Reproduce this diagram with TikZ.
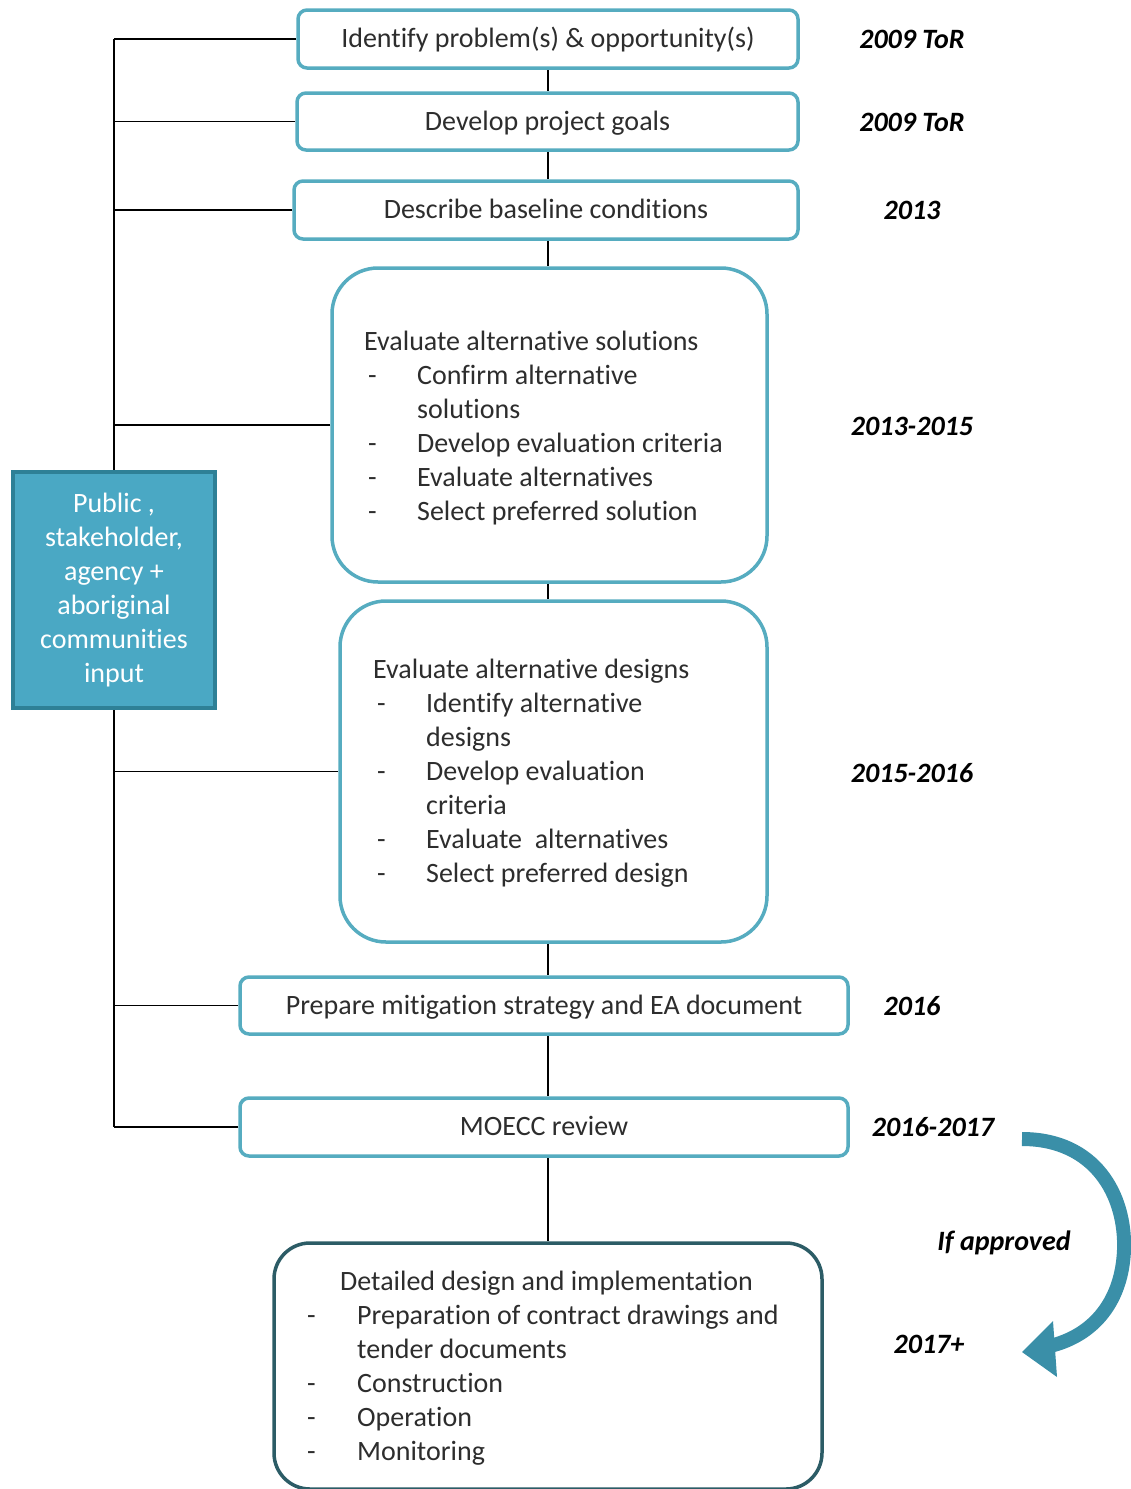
\documentclass[tikz,border=0pt]{standalone}
\usepackage{fontspec}
\setmainfont[Ligatures=NoCommon]{Carlito}
\usepackage{array}
\usetikzlibrary{backgrounds}
\definecolor{boxc}{RGB}{86,172,192}
\definecolor{pubfill}{RGB}{74,168,196}
\definecolor{pubdraw}{RGB}{46,128,150}
\definecolor{darkc}{RGB}{44,92,102}
\definecolor{arrc}{RGB}{58,143,168}
\definecolor{txt}{RGB}{45,45,45}
\begin{document}
\begin{tikzpicture}[x=1pt,y=-1pt,
  every node/.style={font=\fontsize{28}{34}\selectfont, text=txt},
  stepbox/.style={draw=boxc, line width=3.5pt, fill=white, rounded corners=9pt, inner sep=0pt, text depth=0pt, text height=17pt},
  bigbox/.style={draw=boxc, line width=3.5pt, fill=white, rounded corners=46pt, inner sep=0pt},
  finalbox/.style={draw=darkc, line width=3.5pt, fill=white, rounded corners=36pt, inner sep=0pt},
  pubbox/.style={draw=pubdraw, line width=3.5pt, fill=pubfill, inner sep=0pt, text=white, align=center},
  datelbl/.style={font=\fontsize{28}{34}\selectfont\bfseries\itshape, text=black},
  link/.style={draw=black, line width=1.3pt},
  listtext/.style={anchor=base west, inner sep=0pt, align=left}
]
\useasboundingbox (0,0) rectangle (1131,1489);
\coordinate (cx) at (548,0);

% step boxes
\node[stepbox, minimum width=500, minimum height=58] (b1) at (548,39) {Identify problem(s) \& opportunity(s)};
\node[stepbox, minimum width=501, minimum height=57] (b2) at (547.5,121.5) {Develop project goals};
\node[stepbox, minimum width=504, minimum height=58] (b3) at (546,210) {Describe baseline conditions};
\node[bigbox, minimum width=435, minimum height=314] (b4) at (549.5,425) {};
\node[bigbox, minimum width=427, minimum height=341] (b5) at (553.5,771.5) {};
\node[stepbox, minimum width=608, minimum height=57] (b6) at (544,1005.5) {Prepare mitigation strategy and EA document};
\node[stepbox, minimum width=608, minimum height=58] (b7) at (544,1127) {MOECC review};
\node[finalbox, minimum width=548, minimum height=246] (b8) at (548,1366) {};

\node[listtext] (b4t) at (364,350) {\begin{tabular}[t]{@{}>{\hspace{4pt}}p{53pt}@{}l@{}}
\multicolumn{2}{@{}l@{}}{Evaluate alternative solutions}\\
- & Confirm alternative\\
  & solutions\\
- & Develop evaluation criteria\\
- & Evaluate alternatives\\
- & Select preferred solution
\end{tabular}};

\node[listtext] (b5t) at (373,678) {\begin{tabular}[t]{@{}>{\hspace{4pt}}p{53pt}@{}l@{}}
\multicolumn{2}{@{}l@{}}{Evaluate alternative designs}\\
- & Identify alternative\\
  & designs\\
- & Develop evaluation\\
  & criteria\\
- & Evaluate\ \ alternatives\\
- & Select preferred design
\end{tabular}};

\node[listtext] (b8t) at (307,1290) {\begin{tabular}[t]{@{}p{50pt}@{}l@{}}
\multicolumn{2}{@{}l@{}}{\hspace{33pt}Detailed design and implementation}\\
- & Preparation of contract drawings and\\
  & tender documents\\
- & Construction\\
- & Operation\\
- & Monitoring
\end{tabular}};

% stakeholder box
\node[pubbox, minimum width=202, minimum height=236] (pub) at (114,590)
  {Public ,\\stakeholder,\\agency +\\aboriginal\\communities\\input};

% connectors
\begin{scope}[on background layer]
\draw[link] (b1.west -| pub.north) -- (b7.west -| pub.north);
\foreach \b in {b1,b2,b3,b4,b5,b6,b7} {
  \draw[link] (\b.west) -- (\b.west -| pub.north);
}
\draw[link] (b1.south -| cx) -- (b2.north -| cx);
\draw[link] (b2.south -| cx) -- (b3.north -| cx);
\draw[link] (b3.south -| cx) -- (b4.north -| cx);
\draw[link] (b4.south -| cx) -- (b5.north -| cx);
\draw[link] (b5.south -| cx) -- (b6.north -| cx);
\draw[link] (b6.south -| cx) -- (b7.north -| cx);
\draw[link] (b7.south -| cx) -- (b8.north -| cx);
\end{scope}

% dates
\node[datelbl] (d1) at (912,39) {2009 ToR};
\node[datelbl] (d2) at (912,122) {2009 ToR};
\node[datelbl] (d3) at (912,210) {2013};
\node[datelbl] (d4) at (912,426) {2013-2015};
\node[datelbl] (d5) at (912,773) {2015-2016};
\node[datelbl] (d6) at (912,1006) {2016};
\node[datelbl] (d7) at (933,1127) {2016-2017};
\node[datelbl] (d8) at (1004,1243) {If approved};
\node[datelbl] (d9) at (929,1344) {2017+};

% curved arrow
\coordinate (as) at (1022,1139);
\coordinate (ae) at (1050,1346);
\coordinate (atip) at (1022,1352);
\draw[arrc, line width=14pt] (as) .. controls (1095,1139) and (1126,1195) .. (1124,1250)
   .. controls (1122,1300) and (1095,1335) .. (ae);
\fill[arrc] (1053,1321) -- (atip) -- (1057,1377) -- cycle;
\end{tikzpicture}
\end{document}
